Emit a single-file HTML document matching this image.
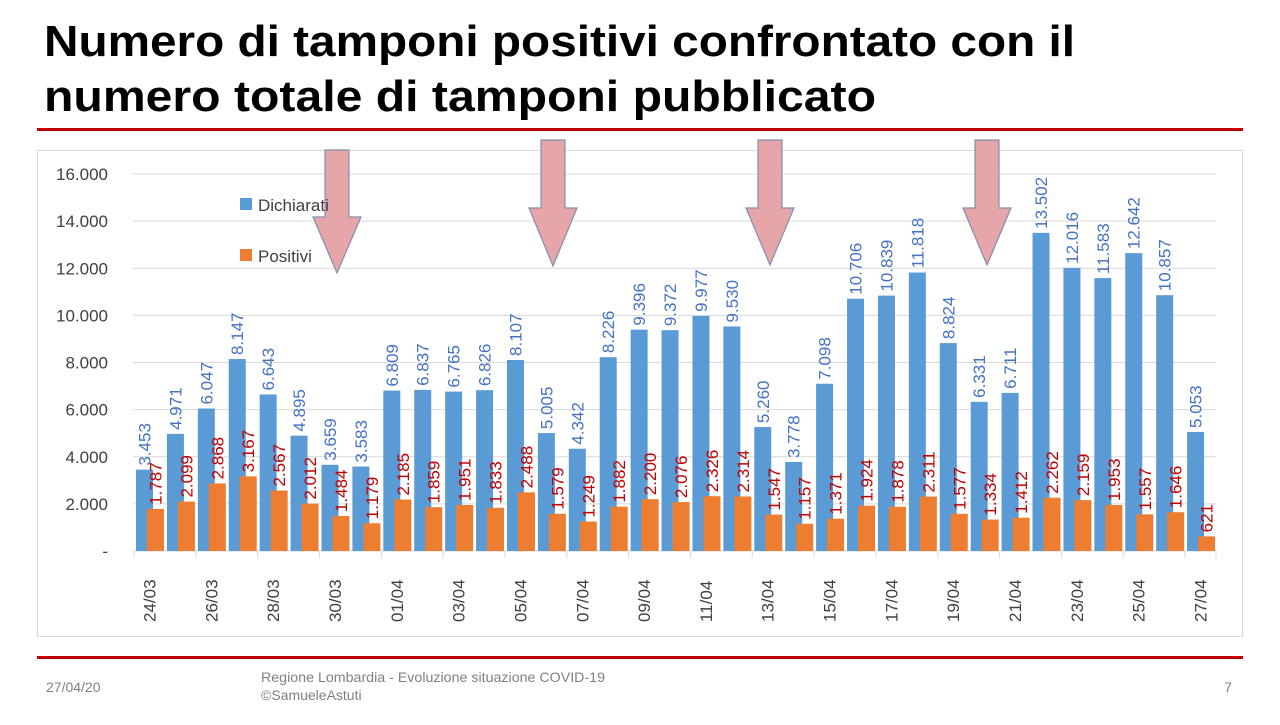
<!DOCTYPE html>
<html><head><meta charset="utf-8"><style>
body{margin:0;width:1280px;height:720px;background:#fff;overflow:hidden;font-family:"Liberation Sans",sans-serif}
</style></head><body>
<svg width="1280" height="720" xmlns="http://www.w3.org/2000/svg" font-family="Liberation Sans, sans-serif">
<text x="44" y="56" font-size="44" font-weight="bold" fill="#000" textLength="1031" lengthAdjust="spacingAndGlyphs">Numero di tamponi positivi confrontato con il</text>
<text x="44" y="111" font-size="44" font-weight="bold" fill="#000" textLength="832" lengthAdjust="spacingAndGlyphs">numero totale di tamponi pubblicato</text>
<rect x="37" y="128" width="1206" height="3" fill="#c00000"/>
<rect x="37.5" y="150.5" width="1205" height="486" fill="none" stroke="#d9d9d9"/>
<g id="grid" stroke="#d9d9d9" stroke-width="1"></g>
<g id="bars"></g>
<g id="labels"></g>
<g id="ylab" font-size="17" fill="#404040" text-anchor="end"></g>
<g id="xlab" font-size="17" fill="#404040"></g>
<g id="arrows" fill="#e6a5a8" stroke="#7f8fae" stroke-width="1.2"></g>
<rect x="240" y="198" width="12" height="12" fill="#5b9bd5"/>
<text x="258" y="211" font-size="17" fill="#404040">Dichiarati</text>
<rect x="240" y="249" width="12" height="12" fill="#ed7d31"/>
<text x="258" y="262" font-size="17" fill="#404040">Positivi</text>
<rect x="37" y="656" width="1206" height="3" fill="#c00000"/>
<text x="46" y="692" font-size="14" fill="#808080">27/04/20</text>
<text x="261" y="682" font-size="14" fill="#808080" textLength="344" lengthAdjust="spacingAndGlyphs">Regione Lombardia - Evoluzione situazione COVID-19</text>
<text x="261" y="700" font-size="14" fill="#808080">©SamueleAstuti</text>
<text x="1232" y="692" font-size="14" fill="#808080" text-anchor="end">7</text>
</svg>
<script>
const D=[3453,4971,6047,8147,6643,4895,3659,3583,6809,6837,6765,6826,8107,5005,4342,8226,9396,9372,9977,9530,5260,3778,7098,10706,10839,11818,8824,6331,6711,13502,12016,11583,12642,10857,5053];
const P=[1787,2099,2868,3167,2567,2012,1484,1179,2185,1859,1951,1833,2488,1579,1249,1882,2200,2076,2326,2314,1547,1157,1371,1924,1878,2311,1577,1334,1412,2262,2159,1953,1557,1646,621];
const NS="http://www.w3.org/2000/svg";
function el(p,t,a,txt){const e=document.createElementNS(NS,t);for(const k in a)e.setAttribute(k,a[k]);if(txt!=null)e.textContent=txt;document.getElementById(p).appendChild(e);return e;}
const y0=551,sc=377/16000,L=134,cw=(1216-134)/35;
const fmt=v=>v.toLocaleString('en').replace(/,/g,'.');
for(let i=1;i<=8;i++){const y=y0-i*2000*sc;el('grid','line',{x1:133,x2:1216,y1:y,y2:y});}
el('grid','line',{x1:133,x2:1216,y1:y0,y2:y0});
for(let i=0;i<=8;i++){el('ylab','text',{x:108,y:y0-i*2000*sc+6},i?fmt(i*2000):'-');}
for(let i=0;i<35;i++){
 const x=L+i*cw;
 const hb=D[i]*sc,hp=P[i]*sc;
 el('bars','rect',{x:x+2,y:y0-hb,width:17,height:hb,fill:'#5b9bd5'});
 el('bars','rect',{x:x+13,y:y0-hp,width:17,height:hp,fill:'#ed7d31'});
 let bx=x+10.5+6,by=y0-hb-4;
 el('labels','text',{x:bx,y:by,transform:`rotate(-90 ${bx} ${by})`,'font-size':17,fill:'#4472c4'},fmt(D[i]));
 let px=x+21.5+6,py=y0-hp-4;
 el('labels','text',{x:px,y:py,transform:`rotate(-90 ${px} ${py})`,'font-size':17,fill:'#c00000'},fmt(P[i]));
 if(i%2==0){el('grid','line',{x1:x,x2:x,y1:y0,y2:y0+7});
  const tx=x+cw/2+6,ty=622;
  el('xlab','text',{x:tx,y:ty,transform:`rotate(-90 ${tx} ${ty})`},
   ['24/03','26/03','28/03','30/03','01/04','03/04','05/04','07/04','09/04','11/04','13/04','15/04','17/04','19/04','21/04','23/04','25/04','27/04'][i/2]);}
}
el('grid','line',{x1:1216,x2:1216,y1:y0,y2:y0+7});
[[337,150,217,273],[553,140,208,266],[770,140,208,265],[987,140,208,265]].forEach(a=>{
 const [cx,t,h,tip]=a;
 el('arrows','path',{d:`M${cx-12} ${t}H${cx+12}V${h}H${cx+24}L${cx} ${tip}L${cx-24} ${h}H${cx-12}Z`});
});
</script>
</body></html>
